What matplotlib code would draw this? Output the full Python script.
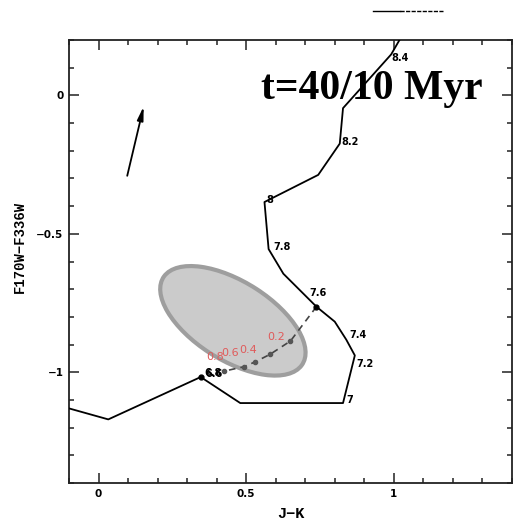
#!/usr/bin/env python3
# -*- coding: utf-8 -*-
"""
Colour-colour diagram: J-K vs F170W-F336W, model track with log(age)
labels, observed cluster ellipse and a mixing sequence.
"""
import matplotlib
matplotlib.use("Agg")
import matplotlib.pyplot as plt
from matplotlib.patches import Ellipse
from matplotlib.lines import Line2D
from matplotlib.ticker import MultipleLocator

# model track (J-K, F170W-F336W), young -> old
track_jk = [-0.101, 0.033, 0.346, 0.480, 0.828, 0.868, 0.839, 0.800, 0.738,
            0.626, 0.576, 0.562, 0.744, 0.817, 0.828, 0.991, 1.03]
track_uv = [-1.130, -1.170, -1.017, -1.111, -1.111, -0.939, -0.882, -0.817,
            -0.763, -0.644, -0.555, -0.385, -0.287, -0.174, -0.046, 0.148, 0.22]

# log(age) labels along the track
age_text = ["6.8", "6.6", "7", "7.2", "7.4", "7.6", "7.8", "8", "8.2", "8.4"]
age_jk = [0.389, 0.392, 0.851, 0.901, 0.879, 0.744, 0.621, 0.581, 0.851, 1.020]
age_uv = [-1.003, -1.005, -1.099, -0.971, -0.864, -0.715, -0.546, -0.376,
          -0.168, 0.136]

# mixing sequence from the 7.6 point
mix_jk = [0.738, 0.650, 0.581, 0.531, 0.492, 0.424]
mix_uv = [-0.763, -0.887, -0.935, -0.962, -0.980, -0.996]
mix_text = ["0.2", "0.4", "0.6", "0.8"]
mix_text_jk = [0.603, 0.505, 0.447, 0.396]
mix_text_uv = [-0.871, -0.920, -0.932, -0.946]

# observed colours (centre, full axes in data units, angle)
obs_center = (0.455, -0.814)
obs_width = 0.566
obs_height = 0.28
obs_angle = -34.6

# reddening vector
red_start = (0.095, -0.30)
red_end = (0.155, -0.03)

fig = plt.figure(figsize=(5.15, 5.2), dpi=100)
ax = fig.add_axes([0.134, 0.071, 0.86, 0.852])

ax.add_patch(Ellipse(obs_center, obs_width, obs_height, angle=obs_angle,
                     facecolor="#cbcbcb", edgecolor="#9e9e9e", lw=3, zorder=1))

ax.plot(track_jk, track_uv, color="black", lw=1.3, zorder=3)
ax.plot(mix_jk, mix_uv, color="#444444", lw=1.2, ls=(0, (4, 3)), zorder=4)
ax.plot(mix_jk[1:], mix_uv[1:], "o", color="#555555", ms=3, zorder=5)
ax.plot([mix_jk[0], track_jk[2]], [mix_uv[0], track_uv[2]], "o",
        color="black", ms=3.5, zorder=5)

for t, x, y in zip(age_text, age_jk, age_uv):
    ax.text(x, y, t, fontsize=7, fontweight="bold", ha="center",
            va="center", zorder=6)
for t, x, y in zip(mix_text, mix_text_jk, mix_text_uv):
    ax.text(x, y, t, fontsize=8, color="#e05a5a", ha="center",
            va="center", zorder=6)

ax.annotate("", xy=red_end, xytext=red_start,
            arrowprops=dict(arrowstyle="-|>,head_length=0.8,head_width=0.18",
                            color="black", lw=1.3))

ax.text(0.549, -0.014, "t=40/10 Myr", family="Liberation Serif",
        fontweight="bold", fontsize=30, ha="left", va="baseline", zorder=7)

ax.set_xlim(-0.1, 1.4)
ax.set_ylim(-1.4, 0.2)
ax.xaxis.set_minor_locator(MultipleLocator(0.1))
ax.yaxis.set_minor_locator(MultipleLocator(0.1))
ax.set_xticks([0, 0.5, 1])
ax.set_xticklabels(["0", "0.5", "1"])
ax.set_yticks([-1, -0.5, 0])
ax.set_yticklabels(["\u22121", "\u22120.5", "0"])
ax.tick_params(which="both", direction="in", top=True, right=True,
               width=1.1, color="#222222")
ax.tick_params(which="major", length=7, labelsize=7.5, pad=4)
ax.tick_params(which="minor", length=3.5)
for lab in ax.get_xticklabels() + ax.get_yticklabels():
    lab.set_fontweight("bold")
for s in ax.spines.values():
    s.set_linewidth(1.3)
    s.set_color("#222222")

ax.set_xlabel("J\u2212K", family="Liberation Mono", fontweight="bold",
              fontsize=11)
ax.set_ylabel("F170W\u2212F336W", family="Liberation Mono",
              fontweight="bold", fontsize=10)
ax.xaxis.set_label_coords(0.5, -0.055)
ax.yaxis.set_label_coords(-0.095, 0.533)

# key line above the frame
fig.add_artist(Line2D([0.724, 0.777], [0.979, 0.979], color="black", lw=1))
fig.add_artist(Line2D([0.777, 0.860], [0.979, 0.979], color="black", lw=1,
                      ls=(0, (3, 1))))

fig.savefig("out.png", dpi=100)
